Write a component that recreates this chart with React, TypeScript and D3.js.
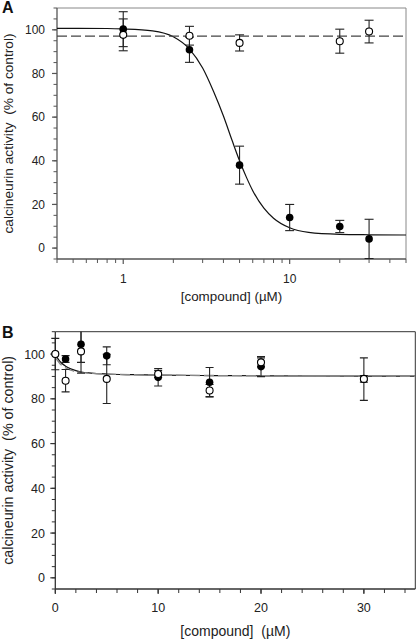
import React from "react";
import * as d3 from "d3";

// ---------- Panel A data (log x) ----------
const concA_filled = [1, 2.5, 5, 10, 20, 30];
const valA_filled = [100.3, 90.9, 38, 14, 9.9, 4.2];
const errA_filled = [8, 5.8, 8.7, 6, 2.8, 9];

const concA_open = [1, 2.5, 5, 20, 30];
const valA_open = [97.7, 97.3, 94, 94.8, 99.2];
const errA_open = [7.3, 4.3, 3.7, 5.5, 5.2];

const fitA_x = [0.4, 0.8, 1, 1.5, 2, 2.5, 3, 3.5, 4, 4.5, 5, 5.5, 6, 7, 8, 10, 13, 20, 30, 50];
const fitA_y = [100.7, 100.6, 100.4, 99.5, 96.8, 91.2, 82.5, 71.5, 60.5, 49.5, 40, 32.4, 26.3, 18.3, 13.7, 9.3, 7.2, 6.3, 6.1, 6.0];
const dashA_x = [0.4, 50];
const dashA_y = [97.1, 97.1];

const xTicksA = [1, 10];
const xMinorA = [0.4, 0.5, 0.6, 0.7, 0.8, 0.9, 2, 3, 4, 5, 6, 7, 8, 9, 20, 30, 40, 50];

// ---------- Panel B data (linear x) ----------
const concB_filled = [0, 1, 2.5, 5, 10, 15, 20, 30];
const valB_filled = [100, 97.8, 104.4, 99.2, 89.6, 87.4, 94.4, 88.8];
const errB_filled = [7, 1.5, 8.1, 4, 3.9, 6.6, 4.5, 9.5];

const concB_open = [0, 1, 2.5, 5, 10, 15, 20, 30];
const valB_open = [100, 88.1, 101.2, 88.9, 91.1, 83.7, 96.3, 88.9];
const errB_open = [0, 5, 9.7, 11, 1.5, 2.7, 2, 1.5];

const fitB_x = [0, 0.3, 0.6, 1, 1.5, 2, 2.5, 3.5, 5, 7.5, 10, 15, 20, 25, 35];
const fitB_y = [100, 97.6, 96.0, 94.6, 93.4, 92.6, 92.0, 91.5, 91.1, 90.8, 90.6, 90.4, 90.3, 90.2, 90.1];
const dashB_x = [0, 0.5, 1, 1.5, 2.5, 5, 10, 20, 35];
const dashB_y = [98.5, 95.5, 93.8, 92.8, 91.8, 91.1, 90.6, 90.3, 90.1];

const xTicksB = [0, 10, 20, 30];
const xMinorB = d3.range(0, 35.01, 2);

const yTicks = [0, 20, 40, 60, 80, 100];
const yMinor = d3.range(-5, 110.01, 5);

const FONT = "'Liberation Sans', Arial, Helvetica, sans-serif";

type PanelProps = {
  id: string;
  letter: string;
  x: any;
  y: any;
  left: number;
  right: number;
  top: number;
  bottom: number;
  xTicks: number[];
  xMinor: number[];
  xFmt: (v: number) => string;
  xTitle: string;
  tickFont: number;
  titleFont: number;
  yTitleFont: number;
  axisColor: string;
  frameColor: string;
  capW: number;
  filled: { c: number[]; v: number[]; e: number[] };
  open: { c: number[]; v: number[]; e: number[] };
  fit: { x: number[]; y: number[] };
  dash: { x: number[]; y: number[] };
  letterY: number;
  xTickLabelY: number;
  xTitleY: number;
  dashColor: string;
};

function Panel(p: PanelProps) {
  const { x, y, left, right, top, bottom } = p;
  const line = d3
    .line<[number, number]>()
    .x((d) => x(d[0]))
    .y((d) => y(d[1]))
    .curve(d3.curveMonotoneX);
  const fitPts = p.fit.x.map((v, i) => [v, p.fit.y[i]] as [number, number]);
  const dashPts = p.dash.x.map((v, i) => [v, p.dash.y[i]] as [number, number]);
  const clipId = "clip" + p.id;
  const errBars = (s: { c: number[]; v: number[]; e: number[] }, key: string) =>
    s.c.map((c, i) => {
      if (!s.e[i]) return null;
      const cx = x(c);
      const y1 = y(s.v[i] + s.e[i]);
      const y2 = y(s.v[i] - s.e[i]);
      return (
        <g key={key + i} stroke="#222" strokeWidth={1.1}>
          <line x1={cx} x2={cx} y1={y1} y2={y2} />
          <line x1={cx - p.capW} x2={cx + p.capW} y1={y1} y2={y1} />
          <line x1={cx - p.capW} x2={cx + p.capW} y1={y2} y2={y2} />
        </g>
      );
    });
  const midY = (top + bottom) / 2;
  const midX = (left + right) / 2;
  return (
    <g fontFamily={FONT}>
      <defs>
        <clipPath id={clipId}>
          <rect x={left - 6} y={top} width={right - left + 6} height={bottom - top} />
        </clipPath>
      </defs>
      {/* frame */}
      <line x1={left} x2={right} y1={top} y2={top} stroke={p.frameColor} strokeWidth={1} />
      <line x1={right} x2={right} y1={top} y2={bottom} stroke={p.frameColor} strokeWidth={1} />
      {/* axes */}
      <line x1={left} x2={left} y1={top} y2={bottom} stroke={p.axisColor} strokeWidth={1.3} />
      <line x1={left} x2={right} y1={bottom} y2={bottom} stroke={p.axisColor} strokeWidth={1.3} />
      {yMinor.map((t) => (
        <line key={"ym" + t} x1={left - 3.5} x2={left} y1={y(t)} y2={y(t)} stroke={p.axisColor} strokeWidth={1} />
      ))}
      {yTicks.map((t) => (
        <g key={"yt" + t}>
          <line x1={left - 5} x2={left} y1={y(t)} y2={y(t)} stroke={p.axisColor} strokeWidth={1.2} />
          <text x={45} y={y(t)} dy="0.36em" textAnchor="end" fontSize={p.tickFont} fill="#222">
            {t}
          </text>
        </g>
      ))}
      {p.xMinor.map((t) => (
        <line key={"xm" + t} x1={x(t)} x2={x(t)} y1={bottom} y2={bottom + 4} stroke={p.axisColor} strokeWidth={1} />
      ))}
      {p.xTicks.map((t) => (
        <g key={"xt" + t}>
          <line x1={x(t)} x2={x(t)} y1={bottom} y2={bottom + 5} stroke={p.axisColor} strokeWidth={1.2} />
          <text x={x(t)} y={p.xTickLabelY} textAnchor="middle" fontSize={p.tickFont} fill="#222">
            {p.xFmt(t)}
          </text>
        </g>
      ))}
      <text x={midX} y={p.xTitleY} textAnchor="middle" fontSize={p.titleFont} fill="#222" style={{ whiteSpace: "pre" }}>
        {p.xTitle}
      </text>
      <text
        transform={`translate(13.3,${midY}) rotate(-90)`}
        textAnchor="middle"
        fontSize={p.yTitleFont}
        fill="#222"
        style={{ whiteSpace: "pre" }}
      >
        {"calcineurin activity  (% of control)"}
      </text>
      <text x={2} y={p.letterY} fontSize={16} fontWeight="bold" fill="#111">
        {p.letter}
      </text>
      <g clipPath={`url(#${clipId})`}>
        <path d={line(fitPts) || ""} fill="none" stroke="#111" strokeWidth={1.2} />
        <path d={line(dashPts) || ""} fill="none" stroke={p.dashColor} strokeWidth={1.4} strokeDasharray="10,4" />
        {errBars(p.filled, "ef")}
        {errBars(p.open, "eo")}
      </g>
      {p.filled.c.map((c, i) => (
        <circle key={"f" + i} cx={x(c)} cy={y(p.filled.v[i])} r={3.8} fill="#000" />
      ))}
      {p.open.c.map((c, i) => (
        <circle key={"o" + i} cx={x(c)} cy={y(p.open.v[i])} r={3.5} fill="#fff" stroke="#000" strokeWidth={1.1} />
      ))}
    </g>
  );
}

export default function App() {
  const xA = d3.scaleLog().domain([0.4, 50]).range([57, 406]);
  const yA = d3.scaleLinear().domain([-5, 110]).range([259, 8]);
  const xB = d3.scaleLinear().domain([0, 35]).range([55.3, 415.3]);
  const yB = d3.scaleLinear().domain([-5, 110]).range([589, 331.7]);
  return (
    <svg
      width={416}
      height={640}
      style={{ position: "absolute", left: 0, top: 0, background: "#fff" }}
    >
      <rect width={416} height={640} fill="#fff" />
      <Panel
        id="A"
        letter="A"
        x={xA}
        y={yA}
        left={57}
        right={406}
        top={8}
        bottom={259}
        xTicks={xTicksA}
        xMinor={xMinorA}
        xFmt={(v) => String(v)}
        xTitle="[compound] (µM)"
        tickFont={12}
        titleFont={13.4}
        yTitleFont={13.7}
        axisColor="#555"
        frameColor="#888"
        capW={4.5}
        filled={{ c: concA_filled, v: valA_filled, e: errA_filled }}
        open={{ c: concA_open, v: valA_open, e: errA_open }}
        fit={{ x: fitA_x, y: fitA_y }}
        dash={{ x: dashA_x, y: dashA_y }}
        letterY={13}
        xTickLabelY={282.5}
        xTitleY={300.5}
        dashColor="#444"
      />
      <Panel
        id="B"
        letter="B"
        x={xB}
        y={yB}
        left={55.3}
        right={415.3}
        top={331.7}
        bottom={589}
        xTicks={xTicksB}
        xMinor={xMinorB}
        xFmt={(v) => String(v)}
        xTitle="[compound]  (µM)"
        tickFont={12.5}
        titleFont={14}
        yTitleFont={14.3}
        axisColor="#333"
        frameColor="#333"
        capW={4}
        filled={{ c: concB_filled, v: valB_filled, e: errB_filled }}
        open={{ c: concB_open, v: valB_open, e: errB_open }}
        fit={{ x: fitB_x, y: fitB_y }}
        dash={{ x: dashB_x, y: dashB_y }}
        letterY={338}
        xTickLabelY={611.5}
        xTitleY={636}
        dashColor="#888"
      />
    </svg>
  );
}
